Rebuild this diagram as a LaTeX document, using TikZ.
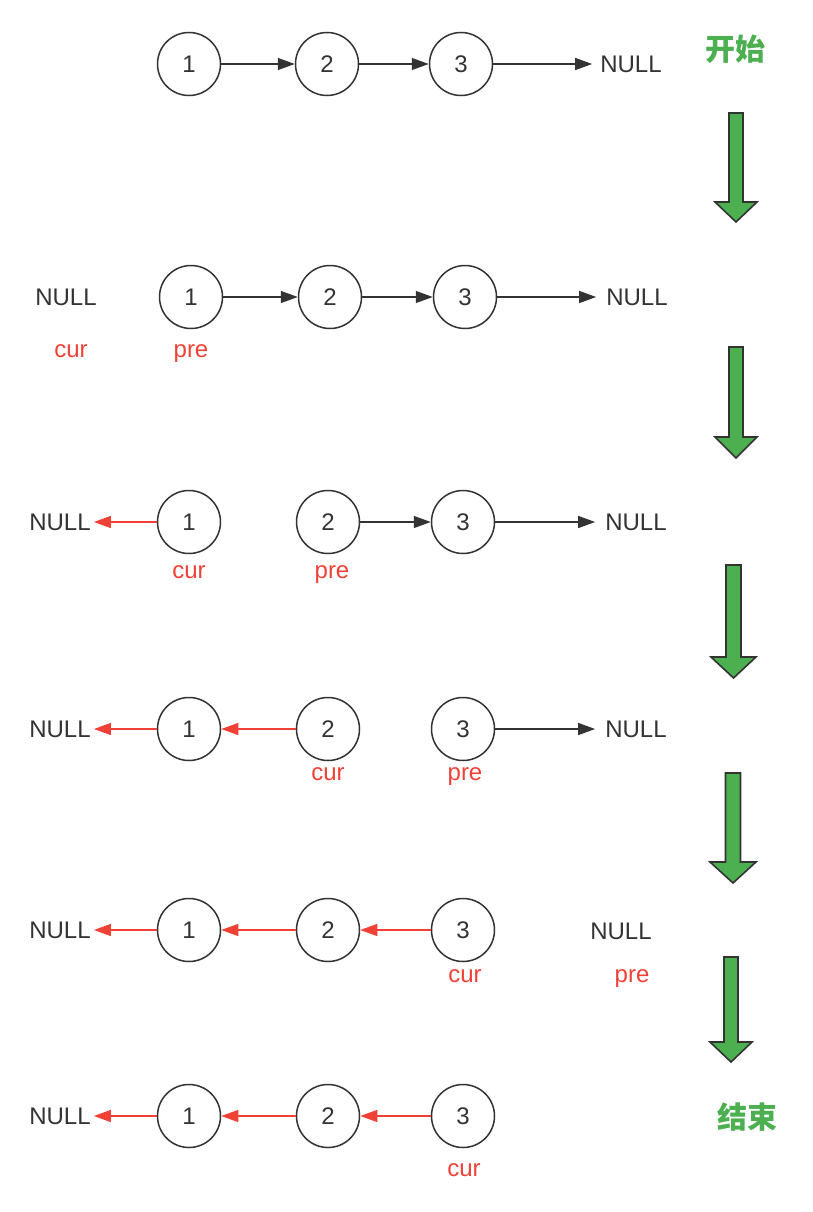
\documentclass[tikz,border=0pt]{standalone}
\usepackage{fontspec}
\setmainfont{Liberation Sans}
\newfontfamily\cjk{Noto Sans CJK SC}
\usetikzlibrary{arrows.meta}
\definecolor{ink}{HTML}{333333}
\definecolor{myred}{HTML}{F04137}
\definecolor{mygreen}{HTML}{4CAF50}
\tikzset{
  lnode/.style={circle, draw=ink, line width=1.5pt, minimum size=63pt, inner sep=0pt, text=ink, font=\fontsize{24}{28}\selectfont},
  nulltxt/.style={inner sep=0pt, text=ink, font=\fontsize{24}{28}\selectfont},
  lbl/.style={inner sep=0pt, anchor=base, text=myred, font=\fontsize{24}{28}\selectfont},
  title/.style={inner sep=0pt, text=mygreen, font=\cjk\bfseries\fontsize{30}{34}\selectfont},
  blk/.style={draw=ink, line width=1.4pt, -{Triangle[length=17pt,width=12pt]}},
  redl/.style={draw=myred, line width=1.4pt, -{Triangle[length=17pt,width=12pt]}},
  bigarrow/.style={fill=mygreen, draw=ink, line width=1.6pt, line join=miter}
}
\newcommand{\greenarrow}[6]{% cx, top, headtop, tip, half shaft, half head
  \path[bigarrow] (#1-#5,#2) -- (#1+#5,#2) -- (#1+#5,#3) -- (#1+#6,#3) -- (#1,#4) -- (#1-#6,#3) -- (#1-#5,#3) -- cycle;}
\begin{document}
\begin{tikzpicture}[x=1pt,y=-1pt]
\useasboundingbox (0,0) rectangle (813,1212);
% Row 1
\node[lnode] (a1) at (189,64) {1};
\node[lnode] (a2) at (327,64) {2};
\node[lnode] (a3) at (461,64) {3};
\node[nulltxt] (an) at (631,64) {NULL};
\draw[blk] (a1) -- (a2);
\draw[blk] (a2) -- (a3);
\draw[blk, shorten >=8pt] (a3) -- (an);
\node[title] (start) at (735,49) {开始};
\greenarrow{736}{113}{202}{222}{7}{21}
% Row 2
\node[nulltxt] (bn0) at (66,297) {NULL};
\node[lnode] (b1) at (191,297) {1};
\node[lnode] (b2) at (330,297) {2};
\node[lnode] (b3) at (465,297) {3};
\node[nulltxt] (bn) at (637,297) {NULL};
\draw[blk] (b1) -- (b2);
\draw[blk] (b2) -- (b3);
\draw[blk, shorten >=10pt] (b3) -- (bn);
\node[lbl] (bcur) at (71,357) {cur};
\node[lbl] (bpre) at (191,357) {pre};
\greenarrow{736}{347}{437}{458}{7}{21}
% Row 3
\node[nulltxt] (cn0) at (60,522) {NULL};
\node[lnode] (c1) at (189,522) {1};
\node[lnode] (c2) at (328,522) {2};
\node[lnode] (c3) at (463,522) {3};
\node[nulltxt] (cn) at (636,522) {NULL};
\draw[redl, shorten >=3pt] (c1) -- (cn0);
\draw[blk] (c2) -- (c3);
\draw[blk, shorten >=10pt] (c3) -- (cn);
\node[lbl] (ccur) at (189,578) {cur};
\node[lbl] (cpre) at (332,578) {pre};
\greenarrow{733.5}{565}{657}{678}{7.5}{22.5}
% Row 4
\node[nulltxt] (dn0) at (60,729) {NULL};
\node[lnode] (d1) at (189,729) {1};
\node[lnode] (d2) at (328,729) {2};
\node[lnode] (d3) at (463,729) {3};
\node[nulltxt] (dn) at (636,729) {NULL};
\draw[redl, shorten >=3pt] (d1) -- (dn0);
\draw[redl] (d2) -- (d1);
\draw[blk, shorten >=10pt] (d3) -- (dn);
\node[lbl] (dcur) at (328,780) {cur};
\node[lbl] (dpre) at (465,780) {pre};
\greenarrow{733}{773}{862}{883}{7.5}{23}
% Row 5
\node[nulltxt] (en0) at (60,930) {NULL};
\node[lnode] (e1) at (189,930) {1};
\node[lnode] (e2) at (328,930) {2};
\node[lnode] (e3) at (463,930) {3};
\node[nulltxt] (en) at (621,931) {NULL};
\draw[redl, shorten >=3pt] (e1) -- (en0);
\draw[redl] (e2) -- (e1);
\draw[redl] (e3) -- (e2);
\node[lbl] (ecur) at (465,982) {cur};
\node[lbl] (epre) at (632,982) {pre};
\greenarrow{731}{957}{1042}{1062}{7}{21}
% Row 6
\node[nulltxt] (fn0) at (60,1116) {NULL};
\node[lnode] (f1) at (189,1116) {1};
\node[lnode] (f2) at (328,1116) {2};
\node[lnode] (f3) at (463,1116) {3};
\draw[redl, shorten >=3pt] (f1) -- (fn0);
\draw[redl] (f2) -- (f1);
\draw[redl] (f3) -- (f2);
\node[lbl] (fcur) at (464,1176) {cur};
\node[title] (finish) at (747,1117) {结束};
\end{tikzpicture}
\end{document}
